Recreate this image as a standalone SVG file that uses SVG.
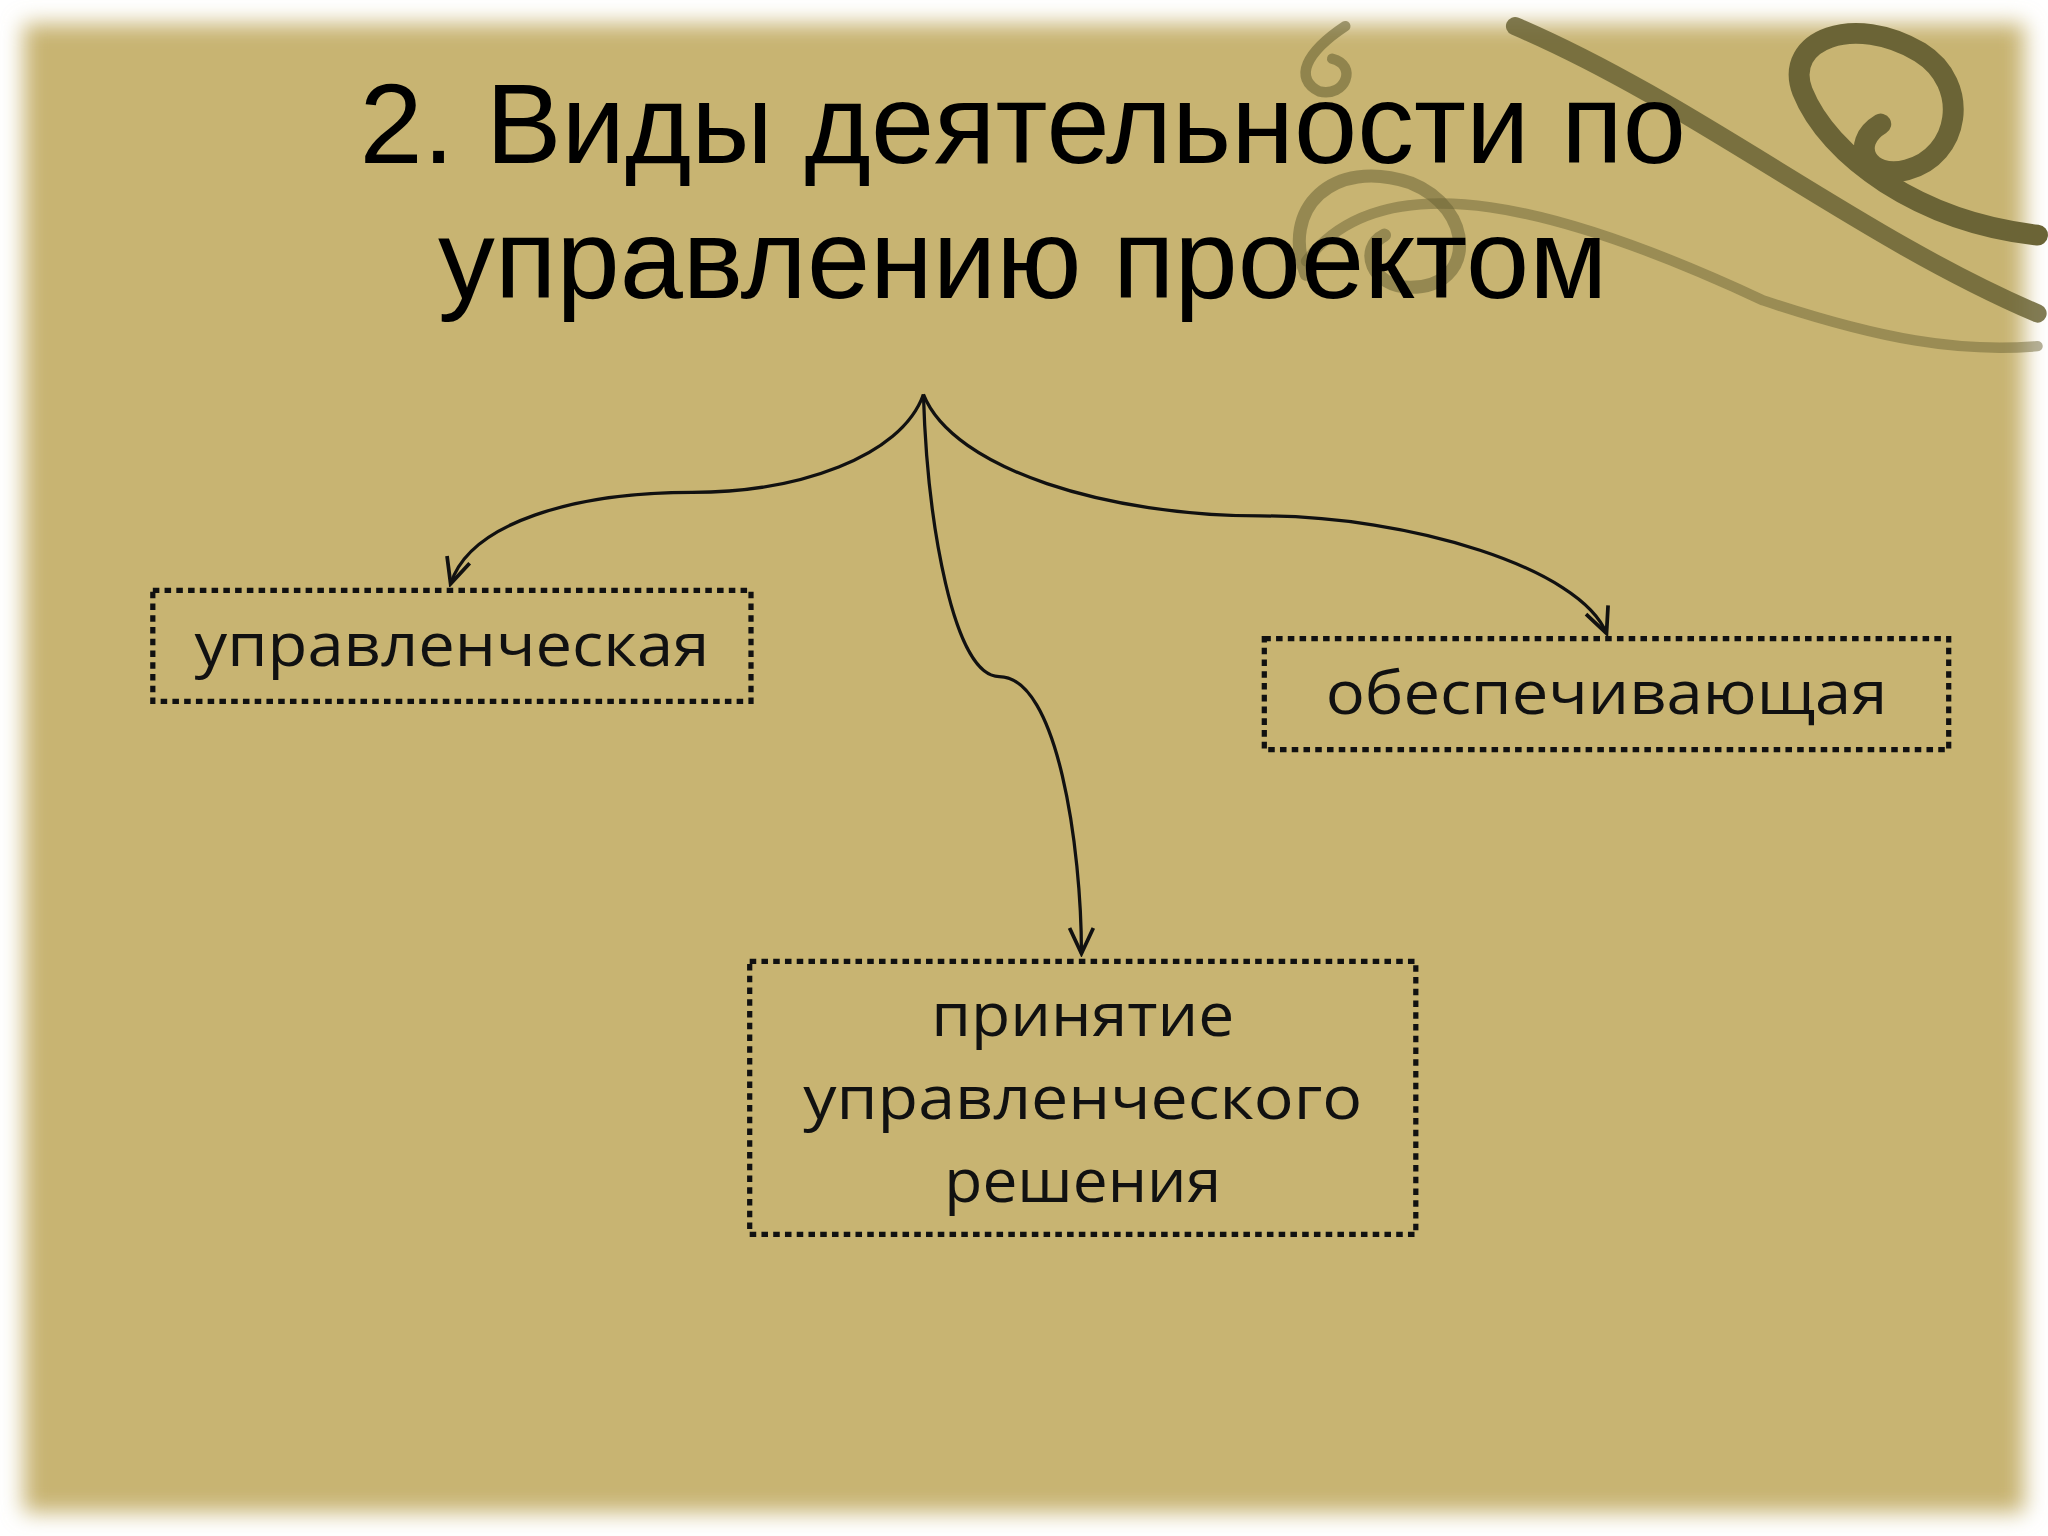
<svg xmlns="http://www.w3.org/2000/svg" width="2048" height="1536" viewBox="0 0 2048 1536">
<defs>
<filter id="blur" x="-5%" y="-5%" width="110%" height="110%"><feGaussianBlur stdDeviation="8"/></filter>
<marker id="v" viewBox="0 0 20 20" refX="18" refY="10" markerWidth="26" markerHeight="26" markerUnits="userSpaceOnUse" orient="auto">
<path d="M3 3 L18 10 L3 17" fill="none" stroke="#111" stroke-width="2.2"/>
</marker>
</defs>
<style>
.box{fill:none;stroke:#111;stroke-width:4;stroke-dasharray:5 4}
.lbl{font-family:"Open Sans","DejaVu Sans",sans-serif;font-size:46px;font-weight:500;fill:#111;text-anchor:middle}
.title{font-family:"Liberation Sans",Arial,sans-serif;font-size:87px;fill:#000;text-anchor:middle}
.con{fill:none;stroke:#111;stroke-width:2.5}
</style>
<rect width="2048" height="1536" fill="#fff"/>
<g transform="scale(1.3061)">
<rect x="18" y="18" width="1532" height="1140" fill="#c8b472" filter="url(#blur)"/>
<g id="swirl" fill="none" stroke="#6b6436" stroke-linecap="round">
<path d="M1160 20 C1300 80 1420 180 1560 240" stroke-width="14" opacity="0.85"/>
<path d="M1560 180 C1470 170 1400 120 1380 70 C1365 30 1420 10 1470 40 C1510 65 1500 120 1460 130 C1430 138 1415 110 1440 95" stroke-width="16"/>
<path d="M1030 20 C1000 40 990 60 1010 70 C1030 75 1040 50 1020 45" stroke-width="8" opacity="0.6"/>
<path d="M1000 210 C980 160 1020 120 1080 140 C1130 160 1130 220 1080 220 C1050 220 1040 190 1060 180" stroke-width="10" opacity="0.55"/>
<path d="M1000 200 C1060 120 1200 160 1350 230 C1440 260 1500 270 1560 265" stroke-width="8" opacity="0.5"/>
</g>
<text class="title" x="783" y="125">2. Виды деятельности по</text>
<text class="title" x="783" y="228">управлению проектом</text>
<g id="connectors">
<path class="con" d="M707 302 C690 350 610 377 530 377 C440 377 360 400 345 447" marker-end="url(#v)"/>
<path class="con" d="M707 302 C710 400 730 518 765 518 C810 518 828 650 828 730" marker-end="url(#v)"/>
<path class="con" d="M707 302 C730 360 850 395 965 395 C1080 395 1210 435 1230 485" marker-end="url(#v)"/>
</g>
<g id="n1"><rect class="box" x="117" y="452" width="458" height="85"/><text class="lbl" x="346" y="510" textLength="394" lengthAdjust="spacingAndGlyphs">управленческая</text></g>
<g id="n2"><rect class="box" x="968" y="489" width="524" height="85"/><text class="lbl" x="1230" y="547" textLength="430" lengthAdjust="spacingAndGlyphs">обеспечивающая</text></g>
<g id="n3"><rect class="box" x="574" y="736" width="510" height="209"/>
<text class="lbl" x="829" y="793" textLength="232" lengthAdjust="spacingAndGlyphs">принятие</text>
<text class="lbl" x="829" y="857" textLength="428" lengthAdjust="spacingAndGlyphs">управленческого</text>
<text class="lbl" x="829" y="920" textLength="212" lengthAdjust="spacingAndGlyphs">решения</text></g>
</g>
</svg>
